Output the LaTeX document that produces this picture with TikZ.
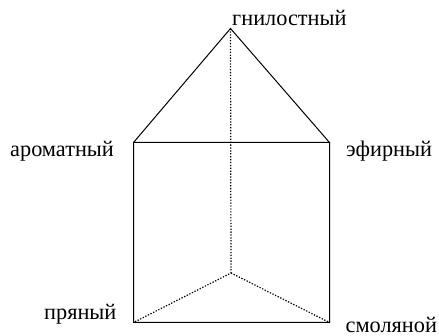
\documentclass[tikz,border=0pt]{standalone}
\usepackage{fontspec}
\setmainfont{Liberation Serif}
\begin{document}
\begin{tikzpicture}[x=1pt,y=-1pt,
  lbl/.style={inner sep=0pt,anchor=base west,font=\fontsize{22.3}{24}\selectfont,text=black},
  edge/.style={draw=black,line width=1pt},
  hidden/.style={draw=black,line width=1.2pt,dash pattern=on 1.3pt off 1.6pt}]
\useasboundingbox (0,0) rectangle (439,336);
\coordinate (G) at (230.5,28.5);
\coordinate (A) at (133.5,142.5);
\coordinate (E) at (329.5,142.5);
\coordinate (P) at (133.5,322.5);
\coordinate (S) at (329.5,322.5);
\coordinate (C) at (231,273);
\node[lbl] (tg) at (232,26) {гнилостный};
\node[lbl] (ta) at (10,157) {ароматный};
\node[lbl] (te) at (346,157) {эфирный};
\node[lbl] (tp) at (44,320) {пряный};
\node[lbl] (ts) at (345.5,332.5) {смоляной};
\draw[edge] (A) -- (G) -- (E) -- (A) -- (P) -- (S) -- (E);
\draw[hidden] (G) -- (C) -- (P);
\draw[hidden] (C) -- (S);
\end{tikzpicture}
\end{document}
